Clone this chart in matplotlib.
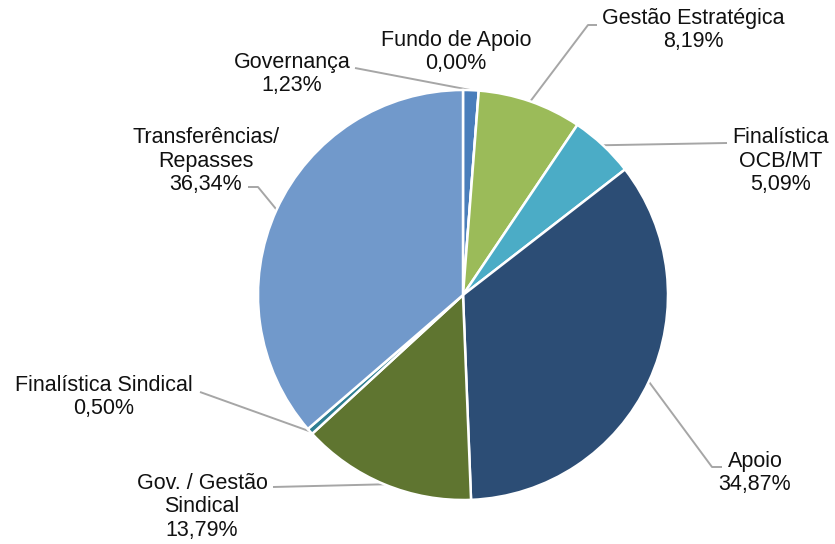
import math
import matplotlib.pyplot as plt

plt.rcParams["font.family"] = ["Liberation Sans", "DejaVu Sans"]

# slices, clockwise from 12 o'clock
names = [
    "Governança",
    "Fundo de Apoio",
    "Gestão Estratégica",
    "Finalística\nOCB/MT",
    "Apoio",
    "Gov. / Gestão\nSindical",
    "Finalística Sindical",
    "Transferências/\nRepasses",
]
shares = [1.23, 0.00, 8.19, 5.09, 34.87, 13.79, 0.50, 36.34]
colors = ["#4A7EBB", "#4A7EBB", "#9BBB59", "#4BACC6", "#2C4D75",
          "#5F7530", "#2E7E92", "#7199CB"]

W, H = 835, 544
CX, CY, R = 463, 295, 205  # pie centre / radius in pixels


def px(x, y):
    # pixel position -> data units (pie radius = 1)
    return (x - CX) / R, (CY - y) / R


# label centre (pixels) and leader path from label side (pixels) or None
label_pos = [(292, 74), (456, 52), (693, 30), (781, 161), (755, 473),
             (202, 507), (104, 397), (206, 161)]
leaders = [
    [(355, 68)],
    None,
    [(597, 25), (588, 25)],
    [(727, 143)],
    [(722, 467), (712, 467)],
    [(273, 487)],
    [(200, 392)],
    [(248, 187), (258, 187)],
]

fig = plt.figure(figsize=(W / 100, H / 100), dpi=100)
ax = fig.add_axes([0, 0, 1, 1])

wedges, _ = ax.pie(
    shares,
    colors=colors,
    startangle=90,
    counterclock=False,
    radius=1,
    wedgeprops=dict(edgecolor="white", linewidth=1.8),
)

x0, y1 = px(0, 0)
x1, y0 = px(W, H)
ax.set_xlim(x0, x1)
ax.set_ylim(y0, y1)
ax.set_aspect("equal")
ax.axis("off")

for w, name, val, pos, path in zip(wedges, names, shares, label_pos, leaders):
    txt = name + "\n" + f"{val:.2f}".replace(".", ",") + "%"
    lx, ly = px(*pos)
    ax.text(lx, ly, txt, ha="center", va="center", fontsize=15.5,
            color="#111111", linespacing=1.15)
    if path is None:
        continue
    mid = math.radians((w.theta1 + w.theta2) / 2)
    pts = [px(*p) for p in path] + [(math.cos(mid), math.sin(mid))]
    ax.plot([p[0] for p in pts], [p[1] for p in pts], color="#A6A6A6",
            lw=1.4, zorder=0.5, solid_capstyle="butt")

fig.savefig("out.png", dpi=100)
